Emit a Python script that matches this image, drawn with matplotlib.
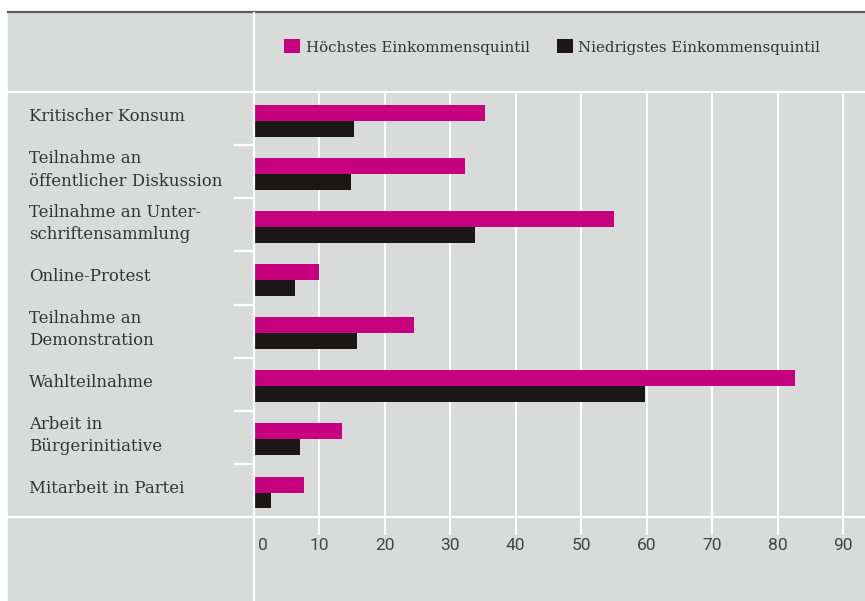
import matplotlib
matplotlib.use("Agg")
import matplotlib.pyplot as plt
from matplotlib.patches import Rectangle
from matplotlib.lines import Line2D
from matplotlib import transforms

categories = [
    "Kritischer Konsum",
    "Teilnahme an\nöffentlicher Diskussion",
    "Teilnahme an Unter-\nschriftensammlung",
    "Online-Protest",
    "Teilnahme an\nDemonstration",
    "Wahlteilnahme",
    "Arbeit in\nBürgerinitiative",
    "Mitarbeit in Partei",
]
hoechstes = [35.3, 32.3, 55.0, 10.0, 24.5, 82.7, 13.5, 7.7]
niedrigstes = [15.4, 14.9, 33.8, 6.4, 15.8, 59.8, 7.1, 2.6]
ticks = [0, 10, 20, 30, 40, 50, 60, 70, 80, 90]
series_names = ["Höchstes Einkommensquintil", "Niedrigstes Einkommensquintil"]

pink = "#c6007e"
black = "#1a1716"
bg = "#d9dada"
txt = "#333333"
serif = "DejaVu Serif"

W, H = 865, 601


def fx(x):
    return x / W


def fy(y):
    return 1 - y / H


fig = plt.figure(figsize=(W / 100, H / 100), dpi=100)
fig.patches.append(Rectangle((fx(8), 0), fx(865) - fx(8), fy(12), transform=fig.transFigure,
                             color=bg, zorder=-5))
# frame lines
fig.lines.append(Line2D([fx(8), 1], [fy(11.5)] * 2, transform=fig.transFigure, color="#5a5a5a", lw=1.6))
for y in (92, 517):
    fig.lines.append(Line2D([fx(8), 1], [fy(y)] * 2, transform=fig.transFigure, color="white", lw=1.6))
fig.lines.append(Line2D([fx(253.5)] * 2, [0, fy(12.5)], transform=fig.transFigure, color="white", lw=1.6))

ax = fig.add_axes([fx(253.5), fy(517), 1 - fx(253.5), (517 - 92) / H])
ax.set_facecolor("none")
ax.set_xlim(0, (865 - 253.5) / 6.55)
ax.set_ylim(len(categories), 0)

ypos = list(range(len(categories)))
ax.barh([y + 0.39 for y in ypos], hoechstes, height=0.30, color=pink, label=series_names[0], zorder=3)
ax.barh([y + 0.69 for y in ypos], niedrigstes, height=0.30, color=black, label=series_names[1], zorder=3)

# row separators in the label column
tr = transforms.blended_transform_factory(fig.transFigure, ax.transData)
for b in range(1, len(categories)):
    ax.add_line(Line2D([fx(235), fx(253.5)], [b, b], transform=tr, color="white", lw=1.6, clip_on=False))

for s in ax.spines.values():
    s.set_visible(False)

ax.set_xticks(ticks[1:])
ax.grid(axis="x", color="white", lw=1.5, zorder=1)
ax.tick_params(axis="x", length=13, width=1.5, color="white", labelbottom=False)
ax.tick_params(axis="y", length=0)
ax.set_yticks([y + 0.47 for y in ypos])
ax.set_yticklabels(categories, ha="left", va="center", fontsize=11.9, color=txt, family=serif,
                   linespacing=1.4)
ax.tick_params(axis="y", pad=(253.5 - 29) * 0.72)

# x tick labels
tl = transforms.blended_transform_factory(ax.transData, fig.transFigure)
for t in ticks:
    xt = t if t > 0 else 1.4
    ax.text(xt, fy(545), str(t), transform=tl, ha="center", va="center", fontsize=12.5,
            color="#444444", family="Roboto", clip_on=False)

leg = fig.legend(loc="center left", bbox_to_anchor=(fx(284), fy(47)), ncol=2, frameon=False,
                 handlelength=1.05, handleheight=1.05, handletextpad=0.4, columnspacing=1.8,
                 borderpad=0, borderaxespad=0, prop={"family": serif, "size": 10.8})
for t in leg.get_texts():
    t.set_color(txt)

fig.savefig("out.png", dpi=100)
